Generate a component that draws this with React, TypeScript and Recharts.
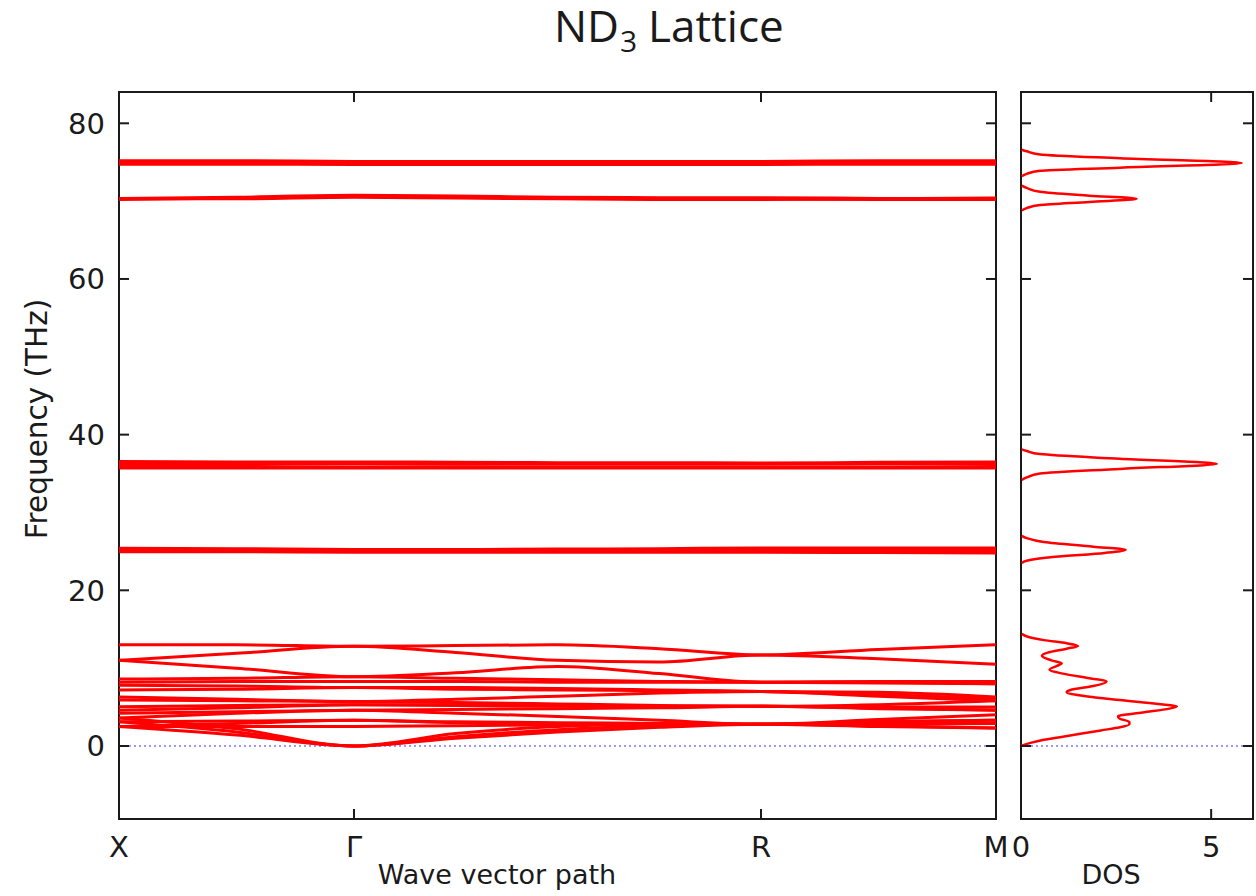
import React from 'react';
import { LineChart, Line, XAxis, YAxis, ReferenceLine, ReferenceArea } from 'recharts';

// k-path positions (X -> Gamma -> R -> M), cubic cell path lengths
const kPath = [0, 0.25, 0.5, 0.7165, 0.933, 1.1495, 1.366, 1.616, 1.866];
const kTicks = [0, 0.5, 1.366, 1.866];
const kTickLabels = ['X', 'Γ', 'R', 'M'];
const freqTicks = [0, 20, 40, 60, 80];
const dosTicks = [0, 5];

// phonon branches, frequency (THz) at each kPath point
const bands: number[][] = [
  [75.2, 75.2, 75.1, 75.1, 75.1, 75.1, 75.1, 75.2, 75.2],
  [75.05, 75.0, 75.0, 75.0, 74.95, 74.95, 74.95, 75.0, 75.05],
  [74.9, 74.9, 74.85, 74.85, 74.85, 74.85, 74.85, 74.9, 74.9],
  [74.75, 74.75, 74.7, 74.7, 74.7, 74.7, 74.7, 74.75, 74.75],
  [70.35, 70.5, 70.75, 70.65, 70.5, 70.45, 70.45, 70.35, 70.3],
  [70.2, 70.4, 70.6, 70.5, 70.4, 70.3, 70.3, 70.2, 70.2],
  [70.3, 70.3, 70.5, 70.4, 70.3, 70.2, 70.2, 70.3, 70.4],
  [36.55, 36.5, 36.5, 36.45, 36.4, 36.4, 36.35, 36.45, 36.5],
  [36.3, 36.3, 36.25, 36.2, 36.2, 36.2, 36.2, 36.25, 36.3],
  [35.9, 35.9, 35.85, 35.85, 35.8, 35.8, 35.8, 35.85, 35.9],
  [35.7, 35.7, 35.7, 35.7, 35.7, 35.7, 35.7, 35.7, 35.7],
  [25.4, 25.35, 25.25, 25.25, 25.3, 25.35, 25.45, 25.45, 25.45],
  [25.1, 25.1, 25.05, 25.05, 25.1, 25.1, 25.15, 25.1, 25.1],
  [24.95, 24.95, 24.9, 24.9, 24.9, 24.9, 24.9, 24.85, 24.8],
  [13.0, 13.0, 12.8, 12.9, 13.0, 12.5, 11.7, 12.4, 13.0],
  [11.0, 11.9, 12.8, 12.0, 11.0, 10.8, 11.7, 11.2, 10.5],
  [11.0, 10.0, 8.9, 9.4, 10.2, 9.3, 8.2, 8.3, 8.3],
  [8.6, 8.7, 8.9, 8.7, 8.5, 8.3, 8.2, 8.2, 8.0],
  [8.2, 8.3, 8.3, 8.3, 8.2, 8.2, 8.2, 8.1, 8.0],
  [7.8, 7.7, 7.5, 7.5, 7.4, 7.2, 7.0, 6.6, 6.1],
  [7.2, 7.3, 7.5, 7.3, 7.2, 7.1, 7.0, 6.4, 5.8],
  [6.3, 6.0, 5.7, 6.0, 6.4, 6.8, 7.0, 6.9, 6.3],
  [5.9, 5.8, 5.7, 5.6, 5.4, 5.2, 5.1, 5.3, 5.8],
  [5.05, 5.2, 5.3, 5.3, 5.2, 5.1, 5.1, 5.0, 5.0],
  [4.6, 4.9, 5.3, 5.2, 5.1, 5.1, 5.1, 4.9, 4.6],
  [4.2, 4.4, 4.6, 4.7, 4.8, 4.9, 5.1, 4.8, 4.6],
  [3.6, 4.2, 4.6, 4.2, 3.8, 3.3, 2.8, 3.4, 4.0],
  [3.1, 3.2, 3.3, 3.1, 3.0, 2.9, 2.8, 3.1, 3.3],
  [2.5, 2.9, 3.3, 3.0, 2.9, 2.8, 2.8, 2.9, 2.9],
  [2.5, 2.5, 2.5, 2.6, 2.7, 2.8, 2.8, 2.5, 2.3],
  [2.5, 1.4, 0, 1.0, 1.8, 2.4, 2.8, 2.6, 2.3],
  [3.1, 1.8, 0, 1.2, 2.1, 2.6, 2.8, 2.8, 2.9],
  [3.6, 2.2, 0, 1.6, 2.5, 2.8, 2.8, 3.1, 3.3],
];

// density of states, one group per peak cluster: frequency (THz) and DOS value
const dosFreq: number[][] = [
  [0, 0.4, 0.8, 1.2, 1.6, 2.0, 2.4, 2.8, 3.1, 3.5, 3.8, 4.3, 4.8, 5.1, 5.4, 5.9, 6.4, 6.9, 7.2, 7.7,
    8.3, 8.7, 9.3, 9.8, 10.3, 10.6, 11.0, 11.6, 12.0, 12.5, 12.85, 13.2, 13.6, 14.0, 14.4],
  [23.5, 23.8, 24.3, 24.8, 25.2, 25.6, 26.2, 26.7, 27.0],
  [34.2, 34.5, 35.0, 35.6, 36.25, 36.9, 37.5, 37.9, 38.1],
  [68.8, 69.1, 69.5, 69.9, 70.3, 70.7, 71.2, 71.7, 72.0],
  [73.2, 73.5, 73.9, 74.3, 74.9, 75.5, 76.0, 76.4, 76.6],
];
const dosValue: number[][] = [
  [0, 0.25, 0.6, 1.1, 1.6, 2.1, 2.6, 2.85, 2.85, 2.6, 2.55, 3.2, 3.9, 4.1, 3.6, 2.6, 1.7, 1.2, 1.3, 1.9,
    2.25, 1.8, 1.1, 0.75, 0.95, 1.07, 0.8, 0.55, 0.7, 1.2, 1.5, 1.2, 0.6, 0.2, 0.02],
  [0.02, 0.15, 0.9, 2.2, 2.75, 1.9, 0.6, 0.15, 0.02],
  [0.02, 0.15, 0.5, 2.6, 5.15, 2.6, 0.5, 0.15, 0.02],
  [0.02, 0.15, 0.5, 1.8, 3.04, 1.8, 0.5, 0.15, 0.02],
  [0.02, 0.15, 0.5, 2.6, 5.8, 2.6, 0.5, 0.15, 0.02],
];

const bandData = bands.map((b) => b.map((f, i) => ({ k: kPath[i], f })));
const dosData = dosFreq.map((g, j) => g.map((f, i) => ({ f, dos: dosValue[j][i] })));

const FREQ_DOMAIN: [number, number] = [-9.38, 84.02];
const TOP = 92;
const BOTTOM = 819;
const FONT = 'DejaVu Sans, sans-serif';
const TITLE_FONT = 'Open Sans, sans-serif';
const INK = '#1a1a1a';
const RED = '#ff0000';

const makeXTick = (labels: (v: number) => string, top: number) => (props: any) => {
  const { x, y, payload } = props;
  return (
    <g>
      <line x1={x} x2={x} y1={y} y2={y - 10} stroke={INK} strokeWidth={2} />
      <line x1={x} x2={x} y1={top} y2={top + 10} stroke={INK} strokeWidth={2} />
      <text x={x} y={y + 38} textAnchor="middle" fontFamily={FONT} fontSize={29} fill={INK}>
        {labels(payload.value)}
      </text>
    </g>
  );
};

const makeYTick = (right: number, showLabel: boolean) => (props: any) => {
  const { x, y, payload } = props;
  return (
    <g>
      <line x1={x} x2={x + 10} y1={y} y2={y} stroke={INK} strokeWidth={2} />
      <line x1={right - 10} x2={right} y1={y} y2={y} stroke={INK} strokeWidth={2} />
      {showLabel && (
        <text x={x - 14} y={y + 10.5} textAnchor="end" fontFamily={FONT} fontSize={29} fill={INK}>
          {payload.value}
        </text>
      )}
    </g>
  );
};

const bandTick = makeXTick((v) => kTickLabels[kTicks.indexOf(v)] ?? '', TOP);
const dosTick = makeXTick((v) => String(v), TOP);

export default function App() {
  return (
    <div style={{ position: 'absolute', left: 0, top: 0, width: 1256, height: 896, background: '#fff' }}>
      <div style={{ position: 'absolute', left: 0, top: 0 }}>
        <LineChart width={1010} height={896} margin={{ top: TOP, right: 14, left: 0, bottom: 0 }}>
          <XAxis
            type="number"
            dataKey="k"
            domain={[0, 1.866]}
            ticks={kTicks}
            interval={0}
            height={896 - BOTTOM}
            tickLine={false}
            axisLine={false}
            tickSize={0}
            tickMargin={0}
            tick={bandTick}
            allowDuplicatedCategory={false}
          />
          <YAxis
            type="number"
            domain={FREQ_DOMAIN}
            ticks={freqTicks}
            interval={0}
            width={119}
            tickLine={false}
            axisLine={false}
            tickSize={0}
            tickMargin={0}
            tick={makeYTick(996, true)}
            allowDataOverflow
          />
          <ReferenceLine y={0} stroke="#3333ff" strokeWidth={1} strokeDasharray="2 3" />
          {bandData.map((d, i) => (
            <Line
              key={i}
              data={d}
              dataKey="f"
              type="monotone"
              stroke={RED}
              strokeWidth={3}
              dot={false}
              activeDot={false}
              isAnimationActive={false}
            />
          ))}
          <ReferenceArea
            x1={0}
            x2={1.866}
            y1={FREQ_DOMAIN[0]}
            y2={FREQ_DOMAIN[1]}
            fill="none"
            stroke={INK}
            strokeWidth={2}
            fillOpacity={0}
          />
        </LineChart>
      </div>
      <div style={{ position: 'absolute', left: 1000, top: 0 }}>
        <LineChart width={256} height={896} margin={{ top: TOP, right: 3, left: 0, bottom: 0 }}>
          <XAxis
            type="number"
            dataKey="dos"
            domain={[0, 6.1]}
            ticks={dosTicks}
            interval={0}
            height={896 - BOTTOM}
            tickLine={false}
            axisLine={false}
            tickSize={0}
            tickMargin={0}
            tick={dosTick}
            allowDuplicatedCategory={false}
          />
          <YAxis
            type="number"
            domain={FREQ_DOMAIN}
            ticks={freqTicks}
            interval={0}
            width={21}
            tickLine={false}
            axisLine={false}
            tickSize={0}
            tickMargin={0}
            tick={makeYTick(253, false)}
            allowDataOverflow
          />
          <ReferenceLine y={0} stroke="#3333ff" strokeWidth={1} strokeDasharray="2 3" />
          {dosData.map((d, i) => (
            <Line
              key={i}
              data={d}
              dataKey="f"
              type="monotoneY"
              stroke={RED}
              strokeWidth={2.5}
              dot={false}
              activeDot={false}
              isAnimationActive={false}
            />
          ))}
          <ReferenceArea
            x1={0}
            x2={6.1}
            y1={FREQ_DOMAIN[0]}
            y2={FREQ_DOMAIN[1]}
            fill="none"
            stroke={INK}
            strokeWidth={2}
            fillOpacity={0}
          />
        </LineChart>
      </div>
      <svg
        width={1256}
        height={896}
        style={{ position: 'absolute', left: 0, top: 0, pointerEvents: 'none' }}
      >
        <text x={619} y={42} textAnchor="end" fontFamily={TITLE_FONT} fontSize={44} fill={INK}>
          ND
        </text>
        <text x={620} y={52} textAnchor="start" fontFamily={TITLE_FONT} fontSize={30} fill={INK}>
          3
        </text>
        <text x={648} y={42} textAnchor="start" fontFamily={TITLE_FONT} fontSize={44} fill={INK}>
          Lattice
        </text>
        <text
          x={47}
          y={419}
          transform="rotate(-90 47 419)"
          textAnchor="middle"
          fontFamily={FONT}
          fontSize={29.5}
          fill={INK}
        >
          Frequency (THz)
        </text>
        <text x={497} y={884} textAnchor="middle" fontFamily={FONT} fontSize={27} fill={INK}>
          Wave vector path
        </text>
        <text x={1111} y={884} textAnchor="middle" fontFamily={FONT} fontSize={27} fill={INK}>
          DOS
        </text>
      </svg>
    </div>
  );
}
